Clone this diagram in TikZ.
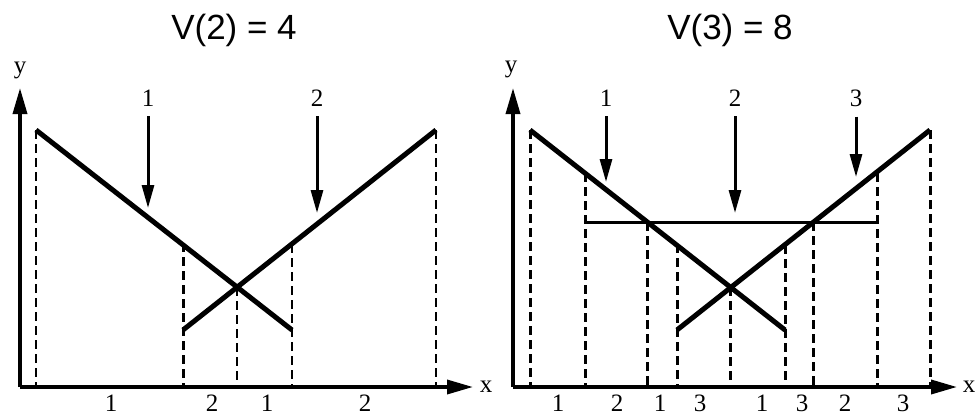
\documentclass[tikz,border=0pt]{standalone}
\usepackage{fontspec}
\setmainfont{Liberation Serif}
\newfontfamily\titlefont{Liberation Sans}
\usetikzlibrary{arrows.meta}
\tikzset{
	>={Triangle[length=23pt,width=12pt]},
	axis/.style={black, line width=3.5pt, -{Triangle[length=26pt,width=14pt]}},
	vline/.style={black, line width=5pt},
	cutline/.style={black, line width=3pt},
	guide/.style={black, line width=1.5pt, dash pattern=on 9pt off 5pt},
	guidebold/.style={black, line width=3pt, dash pattern=on 9pt off 5pt},
	probe/.style={black, line width=3pt, ->, shorten <=10pt},
	heading/.style={font=\titlefont\fontsize{35}{40}\selectfont, inner sep=0pt},
	num/.style={font=\fontsize{25}{29}\selectfont, inner sep=0pt}
}

\begin{document}
\begin{tikzpicture}[x=1pt, y=-1pt, line join=miter]
			\useasboundingbox (0,0) rectangle (975,418);
			
			% Titles
			\node[heading] (tl) at (234,30) {V(2) = 4};
			\node[heading] (tr) at (730,30) {V(3) = 8};
			
			% ---------- Left panel ----------
			\coordinate (o1) at (20,387);
			\coordinate (a1) at (36,130);
			\coordinate (a2) at (292,330);
			\coordinate (b1) at (183,330);
			\coordinate (b2) at (436,130);
			\coordinate (m1) at (intersection of a1--a2 and b1--b2);
			
			% guides down to the x axis
			\draw[guide] (a1) -- (a1 |- o1);
			\draw[guidebold] (183,243) -- (183,387);
			\draw[guide] (m1) -- (m1 |- o1);
			\draw[guide] (292,244) -- (292,387);
			\draw[guide] (b2) -- (b2 |- o1);
			
			% axes
			\draw[axis] (o1) -- (20,88);
			\draw[axis] (o1) -- (473,387);
			\node[num] (ly) at (20,70) {y};
			\node[num] (lx) at (486,387) {x};
			
			% the two lines
			\draw[vline] (a1) -- (a2);
			\draw[vline] (b1) -- (b2);
			
			% arrows
			\node[num] (la1) at (148,98) {1};
			\node[num] (la2) at (317,98) {2};
			\coordinate (ta1) at (148,208);
			\coordinate (ta2) at (317,213);
			\draw[probe] (la1.south) -- (ta1);
			\draw[probe] (la2.south) -- (ta2);
			
			% interval labels
			\foreach \x/\t in {111/1, 212/2, 267/1, 365/2}
				\node[num] (lb\x) at (\x,403) {\t};
			
			% ---------- Right panel ----------
			\coordinate (o2) at (513,387);
			\coordinate (c1) at (530,130);
			\coordinate (c2) at (785,330);
			\coordinate (d1) at (677,330);
			\coordinate (d2) at (930,130);
			\coordinate (h1) at (585,222);
			\coordinate (h2) at (877,222);
			\coordinate (m2) at (intersection of c1--c2 and d1--d2);
			\coordinate (hc) at (intersection of c1--c2 and h1--h2);
			\coordinate (hd) at (intersection of d1--d2 and h1--h2);
			
			% guides down to the x axis
			\draw[guidebold] (c1) -- (c1 |- o2);
			\draw[guidebold] (585,173) -- (585,387);
			\draw[guidebold] (hc) -- (hc |- o2);
			\draw[guidebold] (677,244) -- (677,387);
			\draw[guidebold] (m2) -- (m2 |- o2);
			\draw[guidebold] (785,245) -- (785,387);
			\draw[guidebold] (hd) -- (hd |- o2);
			\draw[guidebold] (877,173) -- (877,387);
			\draw[guidebold] (d2) -- (d2 |- o2);
			
			% axes
			\draw[axis] (o2) -- (513,88);
			\draw[axis] (o2) -- (957,387);
			\node[num] (ry) at (511,69) {y};
			\node[num] (rx) at (969,387) {x};
			
			% the three lines
			\draw[vline] (c1) -- (c2);
			\draw[vline] (d1) -- (d2);
			\draw[cutline] (h1) -- (h2);
			
			% arrows
			\node[num] (ra1) at (606,98) {1};
			\node[num] (ra2) at (735,98) {2};
			\node[num] (ra3) at (856,98) {3};
			\coordinate (tb1) at (606,182);
			\coordinate (tb2) at (735,213);
			\coordinate (tb3) at (856,177);
			\draw[probe] (ra1.south) -- (tb1);
			\draw[probe] (ra2.south) -- (tb2);
			\draw[probe] (ra3.south) -- (tb3);
			
			% interval labels
			\foreach \x/\t in {558/1, 617/2, 660/1, 700/3, 762/1, 802/3, 845/2, 903/3}
				\node[num] (rb\x) at (\x,403) {\t};
			
		\end{tikzpicture}
\end{document}
